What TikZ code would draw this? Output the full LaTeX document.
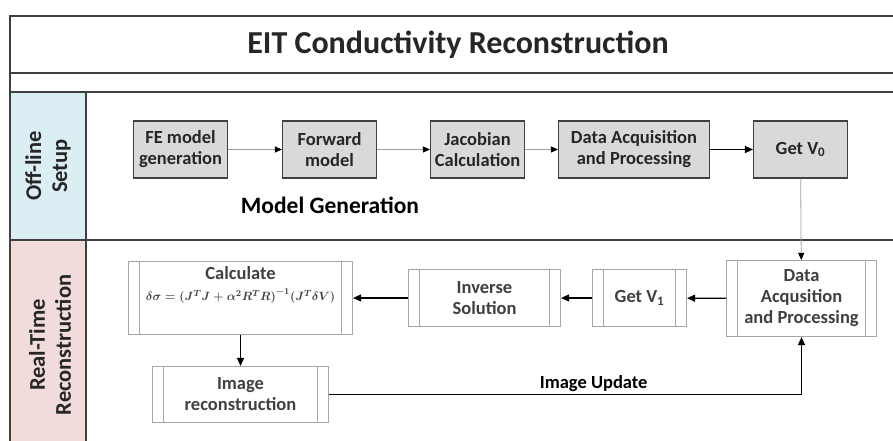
\documentclass[tikz,border=0pt]{standalone}
\usepackage{fontspec}
\setmainfont{Carlito}
\usepackage{amsmath,bm}
\usetikzlibrary{arrows.meta}

\definecolor{framegray}{HTML}{404040}
\definecolor{boxgray}{HTML}{D9D9D9}
\definecolor{edgegray}{HTML}{A6A6A6}
\definecolor{linegray}{HTML}{A0A0A0}
\definecolor{offblue}{HTML}{DAEEF3}
\definecolor{realpink}{HTML}{F2DCDB}
\definecolor{textgray}{HTML}{262626}

\tikzset{
  frameline/.style={draw=framegray, line width=2.2pt},
  setupbox/.style={draw=framegray, fill=boxgray, line width=1.1pt,
    minimum height=57pt, align=center, text=textgray, inner sep=1pt,
    font=\fontsize{18.5}{21}\selectfont\bfseries},
  procbox/.style={draw=edgegray, fill=white, line width=1.1pt,
    align=center, text=framegray, inner sep=1pt,
    font=\fontsize{18.5}{21}\selectfont\bfseries,
    path picture={
      \draw[edgegray, line width=1.1pt]
        ([xshift=11pt]path picture bounding box.north west) --
        ([xshift=11pt]path picture bounding box.south west)
        ([xshift=-11pt]path picture bounding box.north east) --
        ([xshift=-11pt]path picture bounding box.south east);}},
  thinflow/.style={draw=linegray, line width=0.8pt,
    -{Triangle[length=7pt,width=6pt,color=black]}},
  flow/.style={draw=black, line width=1.3pt,
    -{Triangle[length=8pt,width=7pt]}},
  rowlabel/.style={rotate=90, align=center, text=textgray,
    font=\fontsize{22.5}{26}\selectfont\bfseries},
}

\begin{document}
\begin{tikzpicture}[x=1pt,y=-1pt]
  \useasboundingbox (0,0) rectangle (893,441);

  % swim lanes
  \fill[offblue] (10,92) rectangle (86,240);
  \fill[realpink] (10,240) rectangle (86,441);
  \draw[frameline] (10,441) -- (10,16) -- (893,16);
  \draw[frameline] (10,73) -- (893,73);
  \draw[frameline] (10,92) -- (893,92);
  \draw[frameline] (10,240) -- (893,240);
  \draw[frameline] (86,92) -- (86,441);

  \node[text=textgray, font=\fontsize{32}{36}\selectfont\bfseries]
    (title) at (458,45) {EIT Conductivity Reconstruction};
  \node[rowlabel] (offline) at (48,166) {Off-line\\Setup};
  \node[rowlabel] (realtime) at (50,345) {Real-Time\\Reconstruction};

  % off-line setup
  \node[setupbox, minimum width=94pt] (fem) at (180.5,149.5) {FE model\\generation};
  \node[setupbox, minimum width=94pt] (fwd) at (329.5,149.5) {Forward\\model};
  \node[setupbox, minimum width=94pt] (jac) at (477.5,149.5) {Jacobian\\Calculation};
  \node[setupbox, minimum width=151pt] (acq) at (634,149.5) {Data Acquisition\\and Processing};
  \node[setupbox, minimum width=94pt] (getv0) at (800.5,149.5) {Get V\textsubscript{0}};
  \node[font=\fontsize{23.5}{26}\selectfont\bfseries] (modelgen) at (330,205) {Model Generation};

  % real-time reconstruction
  \node[procbox, minimum width=150pt, minimum height=76pt] (acq2) at (801.5,298.5)
    {Data\\Acqusition\\and Processing};
  \node[procbox, minimum width=94pt, minimum height=57pt] (getv1) at (639.5,298) {Get V\textsubscript{1}};
  \node[procbox, minimum width=152pt, minimum height=57pt] (inv) at (484.5,298) {Inverse\\Solution};
  \node[procbox, minimum width=224pt, minimum height=73pt] (calc) at (240.5,298)
    {Calculate\\[0pt]{\fontsize{12.5}{15}\selectfont\boldmath
     $\bm{\delta\sigma=(J^TJ+\alpha^2R^TR)^{-1}(J^T\delta V)}$}\\[8pt]\mbox{}};
  \node[procbox, minimum width=176pt, minimum height=56pt] (imgrec) at (240.5,394.5)
    {Image\\reconstruction};

  \draw[thinflow] (fem) -- (fwd);
  \draw[thinflow] (fwd) -- (jac);
  \draw[thinflow] (jac) -- (acq);
  \draw[flow] (acq) -- (getv0);
  \draw[thinflow] (getv0) -- (acq2);
  \draw[flow] (acq2) -- (getv1);
  \draw[flow] (getv1) -- (inv);
  \draw[flow] (inv) -- (calc);
  \draw[flow] (calc) -- (imgrec);
  \draw[flow] (imgrec.east) -| node[pos=0.28, above, inner sep=2pt,
    font=\fontsize{18.5}{21}\selectfont\bfseries] (update) {Image Update} (acq2.south);
\end{tikzpicture}
\end{document}
